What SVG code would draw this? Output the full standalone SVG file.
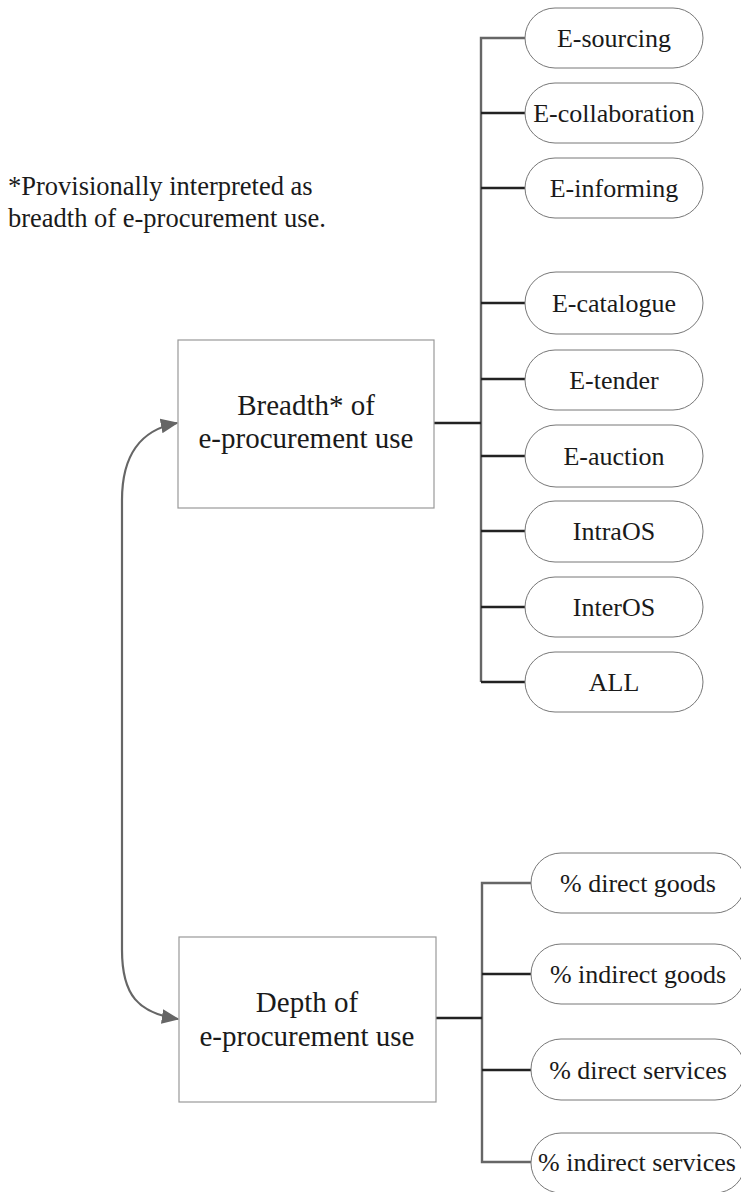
<svg xmlns="http://www.w3.org/2000/svg" width="741" height="1192" viewBox="0 0 741 1192">
  <style>
    text { font-family: "Liberation Serif", "Times New Roman", serif; fill: #1a1a1a; text-anchor: middle; }
    .note { font-size: 26.5px; text-anchor: start; }
    .pill rect { fill: #fff; stroke: #777; stroke-width: 1; }
    .pill text { font-size: 26px; }
    .box rect { fill: #fff; stroke: #999; stroke-width: 1.2; }
    .box text { font-size: 29px; }
    .trunk { fill: none; stroke: #666; stroke-width: 2.4; }
    .branch { fill: none; stroke: #222; stroke-width: 2.4; }
    .link { fill: none; stroke: #666; stroke-width: 2.2; }
  </style>
  <defs>
    <marker id="arrow" viewBox="0 0 12 10" refX="11" refY="5" markerWidth="8" markerHeight="7" markerUnits="strokeWidth" orient="auto-start-reverse">
      <path d="M0,0 L12,5 L0,10 z" fill="#666"/>
    </marker>
  </defs>

  <rect width="741" height="1192" fill="#fff"/>

  <text class="note" x="8" y="195">*Provisionally interpreted as</text>
  <text class="note" x="8" y="227">breadth of e-procurement use.</text>

  <g id="connectors">
    <!-- breadth tree -->
    <path class="trunk" d="M525,38 H481 V682"/>
    <path class="branch" d="M434,423 H481"/>
    <path class="branch" d="M481,113 H525 M481,188 H525 M481,303 H525 M481,379 H525 M481,456 H525 M481,531 H525 M481,607 H525 M481,682 H525"/>
    <!-- depth tree -->
    <path class="trunk" d="M531,883 H482 V1162 H531"/>
    <path class="branch" d="M436,1018 H482"/>
    <path class="branch" d="M482,974 H531 M482,1070 H531"/>
    <!-- two-way link between the two dimensions -->
    <path class="link" marker-start="url(#arrow)" marker-end="url(#arrow)" d="M177,423 C140,430 122,455 122,500 L122,950 C122,995 138,1013 178,1019"/>
  </g>

  <g id="breadth" class="box">
    <rect x="178" y="340" width="256" height="168"/>
    <text x="306" y="415">Breadth* of</text>
    <text x="306" y="448">e-procurement use</text>
  </g>
  <g id="depth" class="box">
    <rect x="179" y="937" width="257" height="165"/>
    <text x="307" y="1012">Depth of</text>
    <text x="307" y="1046">e-procurement use</text>
  </g>

  <g id="e-sourcing" class="pill"><rect x="525" y="8" width="178" height="60" rx="30"/><text x="614" y="47">E-sourcing</text></g>
  <g id="e-collaboration" class="pill"><rect x="525" y="83" width="178" height="60" rx="30"/><text x="614" y="122">E-collaboration</text></g>
  <g id="e-informing" class="pill"><rect x="525" y="158" width="178" height="60" rx="30"/><text x="614" y="197">E-informing</text></g>
  <g id="e-catalogue" class="pill"><rect x="525" y="272" width="178" height="62" rx="31"/><text x="614" y="312">E-catalogue</text></g>
  <g id="e-tender" class="pill"><rect x="525" y="350" width="178" height="60" rx="30"/><text x="614" y="389">E-tender</text></g>
  <g id="e-auction" class="pill"><rect x="525" y="425" width="178" height="62" rx="31"/><text x="614" y="465">E-auction</text></g>
  <g id="intraos" class="pill"><rect x="525" y="501" width="178" height="61" rx="30"/><text x="614" y="540">IntraOS</text></g>
  <g id="interos" class="pill"><rect x="525" y="577" width="178" height="60" rx="30"/><text x="614" y="616">InterOS</text></g>
  <g id="all" class="pill"><rect x="525" y="652" width="178" height="60" rx="30"/><text x="614" y="691">ALL</text></g>

  <g id="direct-goods" class="pill"><rect x="531" y="853" width="214" height="60" rx="30"/><text x="638" y="892">% direct goods</text></g>
  <g id="indirect-goods" class="pill"><rect x="531" y="944" width="214" height="60" rx="30"/><text x="638" y="983">% indirect goods</text></g>
  <g id="direct-services" class="pill"><rect x="531" y="1039" width="214" height="61" rx="30"/><text x="638" y="1079">% direct services</text></g>
  <g id="indirect-services" class="pill"><rect x="531" y="1133" width="214" height="60" rx="30"/><text x="637" y="1171">% indirect services</text></g>
</svg>
